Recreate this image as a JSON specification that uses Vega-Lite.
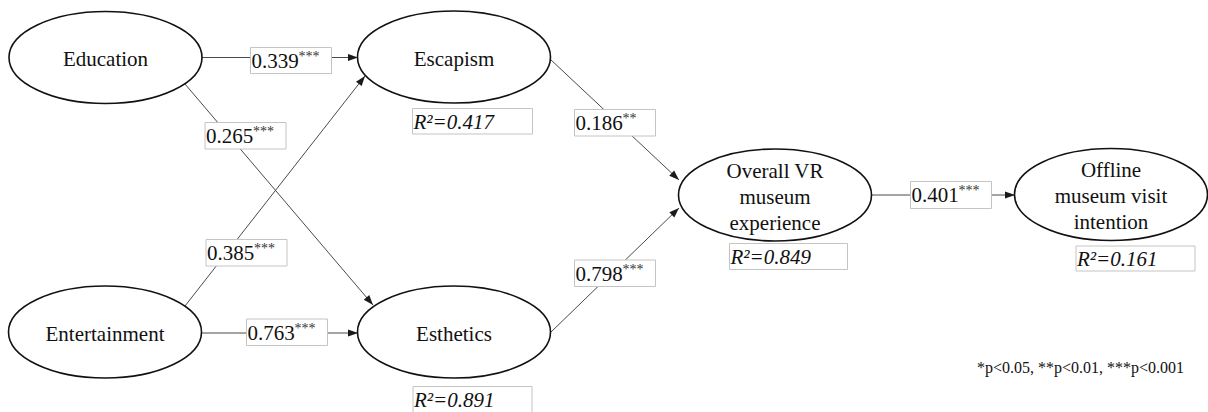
{
  "$schema": "https://vega.github.io/schema/vega-lite/v6.json",
  "width": 1208,
  "height": 412,
  "padding": 0,
  "autosize": "none",
  "background": "white",
  "config": {"view": {"stroke": null}},
  "datasets": {
    "nodes": [
      {"name": ["Education"], "cx": 105.5, "cy": 57.5},
      {"name": ["Escapism"], "cx": 454, "cy": 57},
      {"name": ["Entertainment"], "cx": 105, "cy": 332},
      {"name": ["Esthetics"], "cx": 454, "cy": 332},
      {"name": ["Overall VR", "museum", "experience"], "cx": 775, "cy": 195},
      {"name": ["Offline", "museum visit", "intention"], "cx": 1111, "cy": 194.5}
    ],
    "edges": [
      {"x": 202, "y": 57.5, "x2": 358, "y2": 57.5},
      {"x": 185, "y": 84, "x2": 373, "y2": 305},
      {"x": 185, "y": 306, "x2": 365, "y2": 76},
      {"x": 201, "y": 333, "x2": 358, "y2": 333},
      {"x": 550, "y": 59, "x2": 679, "y2": 180},
      {"x": 550, "y": 333, "x2": 679, "y2": 208},
      {"x": 871, "y": 195, "x2": 1015, "y2": 195}
    ],
    "coefs": [
      {"coef": "0.339", "stars": "***", "x1": 250.5, "x2": 331.5, "y1": 47.5, "y2": 73.5},
      {"coef": "0.265", "stars": "***", "x1": 205, "x2": 286, "y1": 122.5, "y2": 149},
      {"coef": "0.385", "stars": "***", "x1": 206, "x2": 287, "y1": 239.5, "y2": 266},
      {"coef": "0.763", "stars": "***", "x1": 246.5, "x2": 327.5, "y1": 319, "y2": 345.5},
      {"coef": "0.186", "stars": "**", "x1": 574.5, "x2": 655.5, "y1": 109.5, "y2": 136},
      {"coef": "0.798", "stars": "***", "x1": 574.5, "x2": 655.5, "y1": 260, "y2": 286.5},
      {"coef": "0.401", "stars": "***", "x1": 910.5, "x2": 991.5, "y1": 181.5, "y2": 208.5}
    ],
    "r2": [
      {"r2": "R²=0.417", "x1": 412.5, "x2": 532.5, "y1": 108.5, "y2": 134},
      {"r2": "R²=0.891", "x1": 413, "x2": 532, "y1": 386.5, "y2": 420},
      {"r2": "R²=0.849", "x1": 729.5, "x2": 847.5, "y1": 243.5, "y2": 269.5},
      {"r2": "R²=0.161", "x1": 1076, "x2": 1195, "y1": 246, "y2": 271}
    ],
    "notes": [
      {"note": "*p<0.05, **p<0.01, ***p<0.001", "x": 1184, "y": 368}
    ]
  },
  "layer": [
    {
      "data": {"name": "edges"},
      "mark": {"type": "rule", "stroke": "#4a4a4a", "strokeWidth": 1},
      "encoding": {
        "x": {"field": "x", "type": "quantitative", "scale": {"domain": [0, 1208], "nice": false, "zero": false}, "axis": null},
        "y": {"field": "y", "type": "quantitative", "scale": {"domain": [0, 412], "nice": false, "zero": false, "reverse": true}, "axis": null},
        "x2": {"field": "x2"},
        "y2": {"field": "y2"}
      }
    },
    {
      "data": {"name": "coefs"},
      "mark": {"type": "rect", "fill": "white", "stroke": "#c4c4c4", "strokeWidth": 1},
      "encoding": {
        "x": {"field": "x1", "type": "quantitative", "axis": null},
        "x2": {"field": "x2"},
        "y": {"field": "y1", "type": "quantitative", "axis": null},
        "y2": {"field": "y2"}
      }
    },
    {
      "data": {"name": "coefs"},
      "mark": {"type": "text", "font": "Liberation Serif", "fontSize": 21, "align": "left", "baseline": "alphabetic", "dx": 1, "dy": 20.5, "color": "#111"},
      "encoding": {
        "x": {"field": "x1", "type": "quantitative", "axis": null},
        "y": {"field": "y1", "type": "quantitative", "axis": null},
        "text": {"field": "coef"}
      }
    },
    {
      "data": {"name": "coefs"},
      "mark": {"type": "text", "font": "Liberation Serif", "fontSize": 14, "align": "left", "baseline": "alphabetic", "dx": 48, "dy": 13.5, "color": "#333"},
      "encoding": {
        "x": {"field": "x1", "type": "quantitative", "axis": null},
        "y": {"field": "y1", "type": "quantitative", "axis": null},
        "text": {"field": "stars"}
      }
    },
    {
      "data": {"name": "r2"},
      "mark": {"type": "rect", "fill": "white", "stroke": "#c4c4c4", "strokeWidth": 1},
      "encoding": {
        "x": {"field": "x1", "type": "quantitative", "axis": null},
        "x2": {"field": "x2"},
        "y": {"field": "y1", "type": "quantitative", "axis": null},
        "y2": {"field": "y2"}
      }
    },
    {
      "data": {"name": "r2"},
      "mark": {"type": "text", "font": "Liberation Serif", "fontSize": 21, "fontStyle": "italic", "align": "left", "baseline": "alphabetic", "dx": 1, "dy": 20, "color": "#111"},
      "encoding": {
        "x": {"field": "x1", "type": "quantitative", "axis": null},
        "y": {"field": "y1", "type": "quantitative", "axis": null},
        "text": {"field": "r2"}
      }
    },
    {
      "data": {"name": "nodes"},
      "mark": {
        "type": "point",
        "shape": "M1,0 C1,0.2634 0.5523,0.477 0,0.477 C-0.5523,0.477 -1,0.2634 -1,0 C-1,-0.2634 -0.5523,-0.477 0,-0.477 C0.5523,-0.477 1,-0.2634 1,0 Z",
        "size": 37249,
        "fill": "white",
        "stroke": "#111",
        "strokeWidth": 1.6,
        "opacity": 1,
        "filled": true
      },
      "encoding": {
        "x": {"field": "cx", "type": "quantitative", "axis": null},
        "y": {"field": "cy", "type": "quantitative", "axis": null}
      }
    },
    {
      "data": {"name": "nodes"},
      "transform": [{"filter": "length(datum.name) == 1"}],
      "mark": {"type": "text", "font": "Liberation Serif", "fontSize": 21, "align": "center", "baseline": "middle", "dy": 2.5, "color": "#111"},
      "encoding": {
        "x": {"field": "cx", "type": "quantitative", "axis": null},
        "y": {"field": "cy", "type": "quantitative", "axis": null},
        "text": {"field": "name"}
      }
    },
    {
      "data": {"name": "nodes"},
      "transform": [{"filter": "length(datum.name) > 1"}],
      "mark": {"type": "text", "font": "Liberation Serif", "fontSize": 21, "align": "center", "baseline": "middle", "lineHeight": 26, "dy": -23.5, "color": "#111"},
      "encoding": {
        "x": {"field": "cx", "type": "quantitative", "axis": null},
        "y": {"field": "cy", "type": "quantitative", "axis": null},
        "text": {"field": "name"}
      }
    },
    {
      "data": {"name": "edges"},
      "transform": [
        {"calculate": "atan2(datum.y2 - datum.y, datum.x2 - datum.x) * 180 / PI", "as": "angle"}
      ],
      "mark": {"type": "point", "shape": "M0,0 L-1,-0.36 L-1,0.36 Z", "size": 400, "filled": true, "fill": "#1a1a1a", "strokeWidth": 0, "opacity": 1},
      "encoding": {
        "x": {"field": "x2", "type": "quantitative", "axis": null},
        "y": {"field": "y2", "type": "quantitative", "axis": null},
        "angle": {"field": "angle", "type": "quantitative", "scale": null}
      }
    },
    {
      "data": {"name": "notes"},
      "mark": {"type": "text", "font": "Liberation Serif", "fontSize": 16, "align": "right", "baseline": "middle", "color": "#111"},
      "encoding": {
        "x": {"field": "x", "type": "quantitative", "axis": null},
        "y": {"field": "y", "type": "quantitative", "axis": null},
        "text": {"field": "note"}
      }
    }
  ]
}
